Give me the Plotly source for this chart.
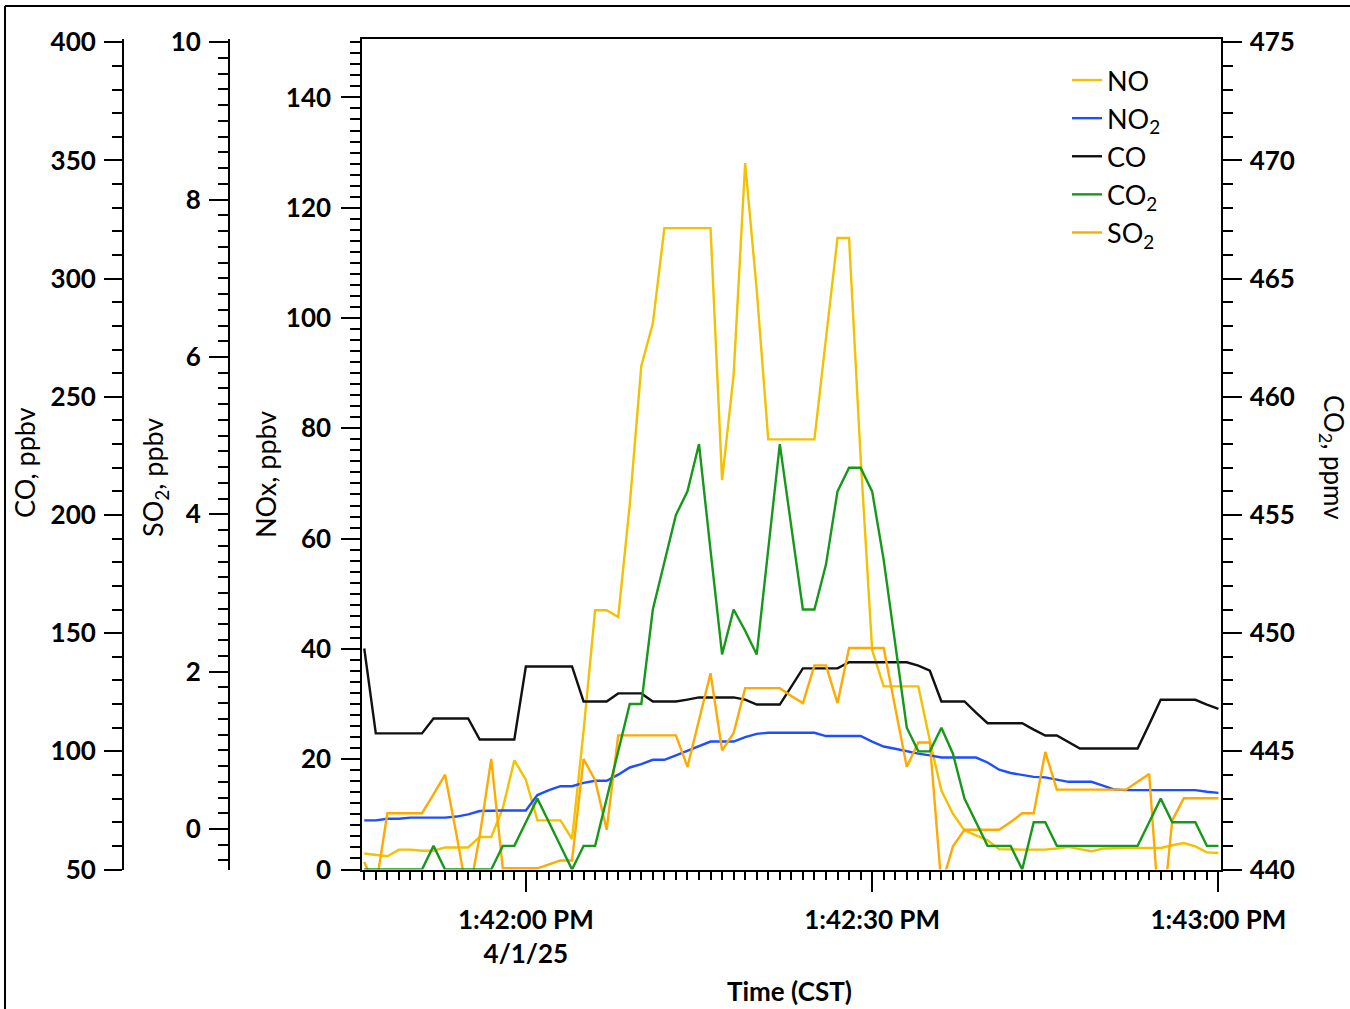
import plotly.graph_objects as go
from datetime import datetime, timedelta

# ---------------- data (1 s samples, seconds relative to 1:42:00 PM 4/1/25) ----------------
seconds = list(range(-14, 61))
t0 = datetime(2025, 4, 1, 13, 42, 0)
time = [t0 + timedelta(seconds=s) for s in seconds]

no_ppbv = [2.9, 2.7, 2.4, 3.6, 3.6, 3.4, 3.4, 4.0, 4.0, 4.0, 5.9, 5.9, 11.1, 19.8, 16.3,
           8.9, 8.9, 8.9, 5.5, 25.1, 47.0, 47.0, 45.8, 66.1, 91.3, 99.0, 116.3, 116.3, 116.3, 116.3,
           116.3, 70.6, 89.7, 128.1, 105.1, 78.0, 78.0, 78.0, 78.0, 78.0, 96.3, 114.5, 114.5, 74.8, 39.8,
           33.2, 33.2, 33.2, 33.2, 23.4, 14.3, 10.1, 7.1, 6.2, 5.3, 3.7, 3.6, 3.6, 3.6, 3.6,
           3.8, 4.1, 3.7, 3.3, 3.8, 3.9, 3.9, 3.9, 3.9, 3.9, 4.4, 4.8, 4.2, 3.1, 3.0]

no2_ppbv = [8.9, 8.9, 9.2, 9.2, 9.4, 9.4, 9.4, 9.4, 9.6, 10.0, 10.6, 10.7, 10.7, 10.7, 10.7,
            13.5, 14.4, 15.1, 15.1, 15.7, 16.1, 16.1, 17.2, 18.5, 19.1, 19.9, 19.9, 20.7, 21.5, 22.4,
            23.2, 23.2, 23.2, 24.0, 24.6, 24.8, 24.8, 24.8, 24.8, 24.8, 24.2, 24.2, 24.2, 24.2, 23.2,
            22.3, 21.9, 21.4, 21.0, 20.7, 20.3, 20.3, 20.3, 20.3, 19.4, 18.1, 17.5, 17.1, 16.8, 16.7,
            16.3, 15.9, 15.9, 15.9, 15.2, 14.5, 14.4, 14.4, 14.4, 14.4, 14.4, 14.4, 14.4, 14.1, 13.9]

co_ppbv = [143.5, 107.6, 107.6, 107.6, 107.6, 107.6, 113.9, 113.9, 113.9, 113.9, 105.0, 105.0, 105.0, 105.0, 135.9,
           135.9, 135.9, 135.9, 135.9, 121.1, 121.1, 121.1, 124.5, 124.5, 124.5, 121.1, 121.1, 121.1, 121.9, 122.8,
           122.8, 122.8, 122.8, 121.9, 119.8, 119.8, 119.8, 127.4, 135.1, 135.1, 135.1, 135.1, 137.7, 137.7, 137.7,
           137.7, 137.7, 137.7, 136.3, 134.1, 121.1, 121.1, 121.1, 116.4, 111.9, 111.9, 111.9, 111.9, 109.2, 106.7,
           106.7, 104.0, 101.2, 101.2, 101.2, 101.2, 101.2, 101.2, 111.4, 121.8, 121.8, 121.8, 121.8, 119.8, 118.0]

co2_ppmv = [440.0, 440.0, 440.0, 440.0, 440.0, 440.0, 441.0, 440.0, 440.0, 440.0, 440.0, 440.0, 441.0, 441.0, 442.0,
            443.0, 442.0, 441.0, 440.0, 441.0, 441.0, 443.0, 445.0, 447.0, 447.0, 451.0, 453.0, 455.0, 456.0, 458.0,
            453.5, 449.1, 451.0, 450.1, 449.1, 453.7, 458.0, 454.5, 451.0, 451.0, 452.9, 456.0, 457.0, 457.0, 456.0,
            453.1, 449.6, 446.0, 445.0, 445.0, 446.0, 444.9, 443.0, 442.0, 441.0, 441.0, 441.0, 440.0, 442.0, 442.0,
            441.0, 441.0, 441.0, 441.0, 441.0, 441.0, 441.0, 441.0, 442.0, 443.0, 442.0, 442.0, 442.0, 441.0, 441.0]

so2_ppbv = [-0.42, -0.75, 0.20, 0.20, 0.20, 0.20, 0.44, 0.69, -0.08, -0.90, -0.09, 0.89, -0.50, -0.50, -0.50,
            -0.50, -0.45, -0.40, -0.40, 0.89, 0.62, -0.01, 1.19, 1.19, 1.19, 1.19, 1.19, 1.19, 0.79, 1.39,
            1.98, 1.00, 1.22, 1.79, 1.79, 1.79, 1.79, 1.69, 1.60, 2.08, 2.08, 1.60, 2.30, 2.30, 2.30,
            2.30, 1.54, 0.79, 1.10, 1.10, -0.72, -0.22, -0.01, -0.01, -0.01, -0.01, 0.09, 0.20, 0.20, 0.98,
            0.50, 0.50, 0.50, 0.50, 0.50, 0.50, 0.50, 0.60, 0.70, -1.35, 0.11, 0.39, 0.39, 0.39, 0.39]

x_major = [datetime(2025, 4, 1, 13, 42, 0), datetime(2025, 4, 1, 13, 42, 30), datetime(2025, 4, 1, 13, 43, 0)]
x_major_text = ["1:42:00 PM<br>4/1/25", "1:42:30 PM", "1:43:00 PM"]
x_mid = [datetime(2025, 4, 1, 13, 41, 50) + timedelta(seconds=5 * k) for k in range(15)]
nox_mid = [10, 30, 50, 70, 90, 110, 130, 150]

# ---------------- styling / geometry ----------------
W, H = 1350, 1009
XL, XR = 362.3, 1220.5      # plot area left/right (px)
YB, YT = 869.5, 39.3        # plot area bottom/top (px)
FONT = "Lato"
BLK = "black"

C_NO = "#F2C100"
C_NO2 = "#1F4EFF"
C_CO = "#111111"
C_CO2 = "#16981A"
C_SO2 = "#FFAA00"
LW = 2.4

xr = [datetime(2025, 4, 1, 13, 41, 45, 830000), datetime(2025, 4, 1, 13, 43, 0, 180000)]

tickfont = dict(family=FONT, size=26, color=BLK, weight="bold")

fig = go.Figure()
fig.add_trace(go.Scatter(x=time, y=no_ppbv, name="NO", mode="lines",
                         line=dict(color=C_NO, width=LW), yaxis="y"))
fig.add_trace(go.Scatter(x=time, y=no2_ppbv, name="NO<sub>2</sub>", mode="lines",
                         line=dict(color=C_NO2, width=LW), yaxis="y"))
fig.add_trace(go.Scatter(x=time, y=co_ppbv, name="CO", mode="lines",
                         line=dict(color=C_CO, width=LW), yaxis="y2"))
fig.add_trace(go.Scatter(x=time, y=co2_ppmv, name="CO<sub>2</sub>", mode="lines",
                         line=dict(color=C_CO2, width=LW), yaxis="y4"))
fig.add_trace(go.Scatter(x=time, y=so2_ppbv, name="SO<sub>2</sub>", mode="lines",
                         line=dict(color=C_SO2, width=LW), yaxis="y3"))

ydom = [1 - YB / H, 1 - YT / H]


def axstyle(standoff):
    return dict(showgrid=False, zeroline=False, ticks="outside", tickwidth=2, tickcolor=BLK,
                linecolor=BLK, linewidth=2, tickfont=tickfont, ticklabelstandoff=standoff)


def minor(d):
    return dict(dtick=d, ticklen=10, tickwidth=2, tickcolor=BLK, ticks="outside", showgrid=False)


fig.update_layout(
    width=W, height=H,
    margin=dict(l=0, r=0, t=0, b=0, autoexpand=False),
    paper_bgcolor="white", plot_bgcolor="white",
    font=dict(family=FONT, color=BLK),
    xaxis=dict(domain=[XL / W, XR / W], type="date", range=xr, anchor="y",
               tickmode="array", tickvals=x_major, ticktext=x_major_text, ticklen=20,
               showline=True, mirror=True,
               minor=dict(dtick=1000, ticklen=8, tickwidth=2, tickcolor=BLK, ticks="outside", showgrid=False),
               **axstyle(6)),
    xaxis2=dict(overlaying="x", type="date", range=xr, anchor="y", side="bottom",
                tickmode="array", tickvals=x_mid, ticks="outside", ticklen=16, tickwidth=2,
                tickcolor=BLK, showticklabels=False, showline=False, showgrid=False, zeroline=False),
    yaxis=dict(domain=ydom, range=[0, 150.54], anchor="x", side="left",
               tick0=0, dtick=20, ticklen=19, showline=True, minor=minor(2), **axstyle(5)),
    yaxis5=dict(overlaying="y", range=[0, 150.54], anchor="x", side="left",
                tickmode="array", tickvals=nox_mid, ticks="outside", ticklen=15, tickwidth=2,
                tickcolor=BLK, showticklabels=False, showline=False, showgrid=False, zeroline=False),
    yaxis2=dict(overlaying="y", anchor="free", position=123 / W, side="left",
                range=[50, 401.27], tick0=50, dtick=50, ticklen=18, showline=True,
                minor=minor(10), **axstyle(3)),
    yaxis3=dict(overlaying="y", anchor="free", position=229 / W, side="left",
                range=[-0.515, 10.038], tick0=0, dtick=2, ticklen=19, showline=True,
                minor=minor(0.2), **axstyle(3)),
    yaxis4=dict(overlaying="y", anchor="x", side="right",
                range=[440, 475.127], tick0=440, dtick=5, ticklen=19, showline=True,
                minor=minor(1), **axstyle(3)),
    legend=dict(x=1067 / W, y=1 - 56 / H, xanchor="left", yanchor="top",
                bgcolor="rgba(0,0,0,0)", font=dict(family=FONT, size=27, color=BLK),
                itemwidth=30, tracegroupgap=0),
    showlegend=True,
)

ann_font = dict(family=FONT, size=27, color=BLK)
titles = [
    ("CO, ppbv", 25, 463, -90, ann_font),
    ("SO<sub>2</sub>, ppbv", 155, 478, -90, ann_font),
    ("NOx, ppbv", 265, 475, -90, ann_font),
    ("CO<sub>2</sub>, ppmv", 1333, 457, 90, dict(family=FONT, size=26, color=BLK)),
    ("Time (CST)", 790, 991, 0, dict(family=FONT, size=26, color=BLK, weight="bold")),
]
for txt, px, py, ang, f in titles:
    fig.add_annotation(text=txt, x=px / W, y=1 - py / H, xref="paper", yref="paper",
                       textangle=ang, showarrow=False, xanchor="center", yanchor="middle", font=f)

# outer frame of the figure
fig.add_shape(type="line", xref="paper", yref="paper", x0=5 / W, y0=1 - 6 / H, x1=1.0, y1=1 - 6 / H,
              line=dict(color=BLK, width=2))
fig.add_shape(type="line", xref="paper", yref="paper", x0=5 / W, y0=1 - 6 / H, x1=5 / W, y1=0.0,
              line=dict(color=BLK, width=2))

fig.write_html("out.html", config={"displayModeBar": False},
               post_script="document.body.style.margin='0px';document.body.style.overflow='hidden';")
